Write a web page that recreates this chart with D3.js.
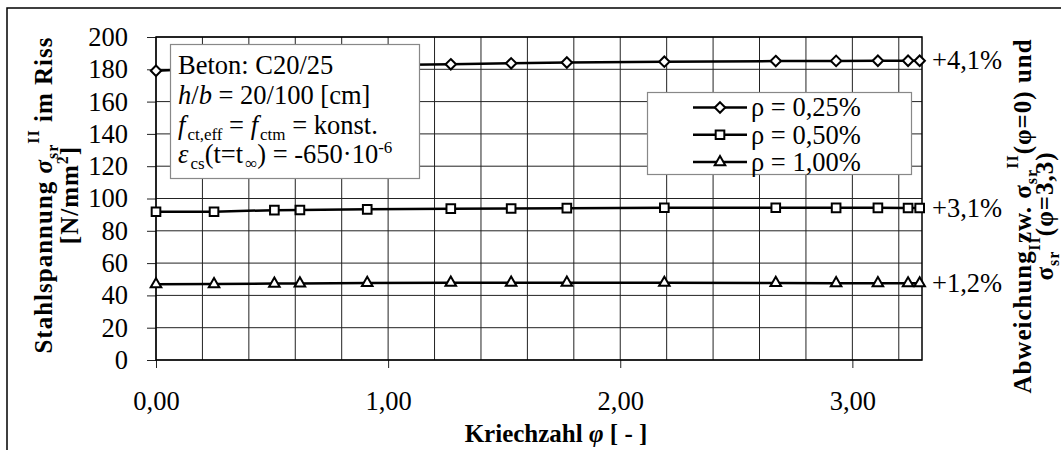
<!DOCTYPE html>
<html>
<head>
<meta charset="utf-8">
<script src="https://cdn.jsdelivr.net/npm/d3@7"></script>
<style>
  body { margin: 0; background: #fff; }
  text { font-family: "Liberation Serif", serif; fill: #000; }
</style>
</head>
<body>
<div id="chart"></div>
<script>
// creep coefficient phi (x values, shared by all series)
const phi = [0, 0.25, 0.51, 0.62, 0.91, 1.27, 1.53, 1.77, 2.19, 2.67, 2.93, 3.11, 3.24, 3.29];

// steel stress sigma_sr^II [N/mm2]
const rho025 = [179.1, 180.6, 181.5, 181.9, 182.5, 183.1, 183.7, 184.2, 184.7, 185.1, 185.2, 185.3, 185.3, 185.3];
const rho050 = [91.8, 91.8, 92.8, 92.9, 93.3, 93.7, 93.8, 94.0, 94.3, 94.3, 94.2, 94.2, 94.1, 94.1];
const rho100 = [46.9, 47.0, 47.3, 47.4, 47.7, 47.9, 47.9, 47.9, 47.8, 47.7, 47.6, 47.6, 47.5, 47.5];

const seriesNames = ["ρ = 0,25%", "ρ = 0,50%", "ρ = 1,00%"];
const seriesShapes = ["diamond", "square", "triangle"];
const deviation = ["+4,1%", "+3,1%", "+1,2%"];

const yTicks = [0, 20, 40, 60, 80, 100, 120, 140, 160, 180, 200];
const xTicks = [0, 1, 2, 3];
const xGrid = d3.range(0, 3.3, 0.2);

const W = 1061, H = 450;
const pLeft = 156, pRight = 922, pTop = 37, pBottom = 360;
const fs = "26.5px";

const svg = d3.select("#chart").append("svg")
  .attr("width", W).attr("height", H);

// outer chart frame
svg.append("rect")
  .attr("x", 7).attr("y", 8).attr("width", 1100).attr("height", 500)
  .attr("fill", "none").attr("stroke", "#000").attr("stroke-width", 1.5);

const x = d3.scaleLinear().domain([0, 3.3]).range([pLeft, pRight]);
const y = d3.scaleLinear().domain([0, 200]).range([pBottom, pTop]);

// grid
svg.append("g").selectAll("line").data(xGrid).enter().append("line")
  .attr("x1", d => x(d)).attr("x2", d => x(d))
  .attr("y1", pTop).attr("y2", pBottom)
  .attr("stroke", "#222").attr("stroke-width", 1);
svg.append("g").selectAll("line").data(yTicks).enter().append("line")
  .attr("x1", pLeft).attr("x2", pRight)
  .attr("y1", d => y(d)).attr("y2", d => y(d))
  .attr("stroke", "#222").attr("stroke-width", 1);

// axes
const fmt = d => d3.format(".2f")(d).replace(".", ",");
const xAxis = svg.append("g")
  .attr("transform", "translate(0," + pBottom + ")")
  .call(d3.axisBottom(x).tickValues(xTicks).tickSize(8).tickPadding(23).tickFormat(fmt));
const yAxis = svg.append("g")
  .attr("transform", "translate(" + pLeft + ",0)")
  .call(d3.axisLeft(y).tickValues(yTicks).tickSize(9).tickPadding(19));
[xAxis, yAxis].forEach(a => {
  a.select(".domain").remove();
  a.selectAll("line").attr("stroke", "#222");
  a.selectAll("text").style("font-size", fs).style("font-family", "Liberation Serif").attr("fill", "#000");
});

// plot frame
svg.append("rect")
  .attr("x", pLeft).attr("y", pTop).attr("width", pRight - pLeft).attr("height", pBottom - pTop)
  .attr("fill", "none").attr("stroke", "#000").attr("stroke-width", 1.5);

// series
const symbolOf = {
  diamond: d3.symbol().type(d3.symbolDiamond2).size(70),
  square: d3.symbol().type(d3.symbolSquare2).size(95),
  triangle: d3.symbol().type(d3.symbolTriangle2).size(80)
};
const line = d3.line().x(d => x(d[0])).y(d => y(d[1]));
const allSeries = [rho025, rho050, rho100];

allSeries.forEach((vals, i) => {
  const pts = phi.map((p, j) => [p, vals[j]]);
  svg.append("path").datum(pts)
    .attr("d", line).attr("fill", "none")
    .attr("stroke", "#000").attr("stroke-width", 2.5);
  svg.append("g").selectAll("path").data(pts).enter().append("path")
    .attr("transform", d => "translate(" + x(d[0]) + "," + y(d[1]) + ")")
    .attr("d", symbolOf[seriesShapes[i]])
    .attr("fill", "#fff").attr("stroke", "#000").attr("stroke-width", 2);
  svg.append("text")
    .attr("x", x(3.3) + 10).attr("y", y(vals[vals.length - 1]))
    .attr("dy", "0.33em")
    .style("font-size", fs)
    .text(deviation[i]);
});

// info box
const info = svg.append("g");
info.append("rect")
  .attr("x", 170.5).attr("y", 44.5).attr("width", 249).attr("height", 134)
  .attr("fill", "#fff").attr("stroke", "#888").attr("stroke-width", 1.2);
function addLine(yy, parts) {
  const tt = info.append("text").attr("x", 178).attr("y", yy).style("font-size", fs);
  parts.forEach(p => {
    const s = tt.append("tspan").text(p.t);
    if (p.i) s.style("font-style", "italic");
    if (p.sub) s.style("font-size", "17px").attr("dy", p.sub).attr("dx", 2);
    if (p.sup) s.style("font-size", "17px").attr("dy", p.sup);
    if (p.back) s.attr("dy", p.back);
  });
}
addLine(74, [{ t: "Beton: C20/25" }]);
addLine(104, [{ t: "h", i: 1 }, { t: "/" }, { t: "b", i: 1 }, { t: " = 20/100 [cm]" }]);
addLine(134, [{ t: "f", i: 1 }, { t: "ct,eff", sub: 6 }, { t: " = ", back: -6 }, { t: "f", i: 1 },
  { t: "ctm", sub: 6 }, { t: " = konst.", back: -6 }]);
addLine(163, [{ t: "ε", i: 1 }, { t: "cs", sub: 6 }, { t: "(t=t", back: -6 }, { t: "∞", sub: 6 },
  { t: ") = -650·10", back: -6 }, { t: "-6", sup: -10 }]);

// legend
const lg = svg.append("g");
lg.append("rect")
  .attr("x", 647.5).attr("y", 92.5).attr("width", 264).attr("height", 82)
  .attr("fill", "#fff").attr("stroke", "#888").attr("stroke-width", 1.2);
seriesNames.forEach((n, i) => {
  const cy = 107.5 + i * 27.3;
  lg.append("line").attr("x1", 693).attr("x2", 747).attr("y1", cy).attr("y2", cy)
    .attr("stroke", "#000").attr("stroke-width", 2.5);
  lg.append("path").attr("transform", "translate(720," + cy + ")")
    .attr("d", symbolOf[seriesShapes[i]])
    .attr("fill", "#fff").attr("stroke", "#000").attr("stroke-width", 2);
  lg.append("text").attr("x", 751).attr("y", cy).attr("dy", "0.33em")
    .style("font-size", fs).text(n);
});

// x title
const xt = svg.append("text").attr("x", 556).attr("y", 442)
  .attr("text-anchor", "middle").style("font-size", "25px").style("font-weight", "bold");
xt.append("tspan").text("Kriechzahl ");
xt.append("tspan").text("φ").style("font-style", "italic");
xt.append("tspan").text(" [ - ]");

// left y title
const yt = svg.append("g").attr("transform", "translate(0,195) rotate(-90)");
const yt1 = yt.append("text").attr("x", 0).attr("y", 52)
  .attr("text-anchor", "middle").style("font-size", "25px").style("font-weight", "bold")
  .style("letter-spacing", "1px");
yt1.append("tspan").text("Stahlspannung ");
yt1.append("tspan").text("σ").style("font-style", "italic");
yt1.append("tspan").text("sr").style("font-size", "16px").attr("dy", 6);
yt1.append("tspan").text("II").style("font-size", "16px").attr("dy", -19);
yt1.append("tspan").text(" im Riss").attr("dy", 13);
const yt2 = yt.append("text").attr("x", 0).attr("y", 78)
  .attr("text-anchor", "middle").style("font-size", "25px").style("font-weight", "bold")
  .style("letter-spacing", "1px");
yt2.append("tspan").text("[N/mm");
yt2.append("tspan").text("2").style("font-size", "16px").attr("dy", -10);
yt2.append("tspan").text("]").attr("dy", 10);

// right title
const rt = svg.append("g").attr("transform", "translate(0,216) rotate(-90)");
const rt1 = rt.append("text").attr("x", 0).attr("y", 1031)
  .attr("text-anchor", "middle").style("font-size", "25px").style("font-weight", "bold")
  .style("letter-spacing", "1px");
rt1.append("tspan").text("Abweichung  zw. σ");
rt1.append("tspan").text("sr").style("font-size", "16px").attr("dy", 6);
rt1.append("tspan").text("II").style("font-size", "16px").attr("dy", -19);
rt1.append("tspan").text("(φ=0) und").attr("dy", 13);
const rt2 = rt.append("text").attr("x", 0).attr("y", 1053)
  .attr("text-anchor", "middle").style("font-size", "25px").style("font-weight", "bold")
  .style("letter-spacing", "1px");
rt2.append("tspan").text("σ");
rt2.append("tspan").text("sr").style("font-size", "16px").attr("dy", 6);
rt2.append("tspan").text("II").style("font-size", "16px").attr("dy", -19);
rt2.append("tspan").text("(φ=3,3)").attr("dy", 13);
</script>
</body>
</html>
